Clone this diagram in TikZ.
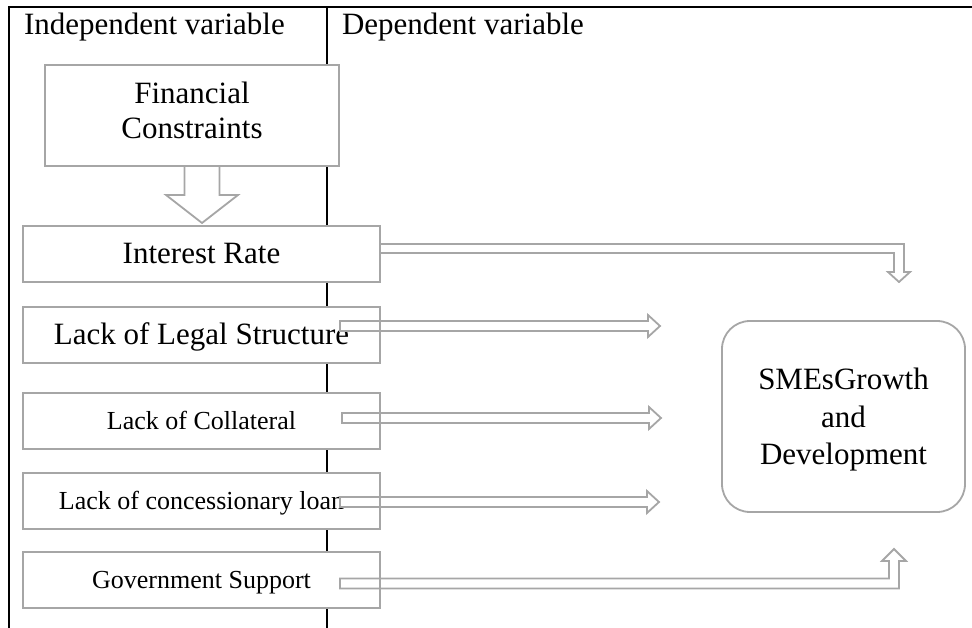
\documentclass[tikz,border=0pt]{standalone}
\usepackage{fontspec}
\setmainfont{Liberation Serif}
\usetikzlibrary{calc}
\definecolor{bx}{RGB}{166,166,166}
\tikzset{
  rulestyle/.style={line width=2pt, draw=black},
  box/.style={draw=bx, line width=1.8pt, fill=white, inner sep=0pt, outer sep=0pt, align=center},
  border/.style={draw=bx, line width=1.8pt},
  bigfont/.style={font=\fontsize{31}{35.5}\selectfont, text height=22pt, text depth=3pt},
  smallfont/.style={font=\fontsize{26}{30}\selectfont, text height=19pt, text depth=3pt},
  blk/.style={draw=bx, line width=1.8pt, fill=white, line join=miter},
  lbl/.style={inner sep=0pt, outer sep=0pt, anchor=base west, font=\fontsize{31}{35.5}\selectfont}
}
\newcommand\hblk[2]{%
  \draw[blk] ($(#1)+(0,-5)$) -- ($(#2)+(-12,-5)$) -- ($(#2)+(-12,-11)$) -- (#2)
    -- ($(#2)+(-12,11)$) -- ($(#2)+(-12,5)$) -- ($(#1)+(0,5)$) -- cycle;}
\begin{document}
\begin{tikzpicture}[x=1pt,y=-1pt]
\useasboundingbox (0,0) rectangle (972,628);
% table rules
\draw[rulestyle] (9,628) -- (9,7) -- (972,7);
\draw[rulestyle] (327,7) -- (327,628);
% headers
\node[lbl] (hind) at (24,35) {Independent variable};
\node[lbl] (hdep) at (342,35) {Dependent variable};
% boxes
\node[box, minimum width=294, minimum height=101] (fc) at (192,115.5) {};
\node[inner sep=0pt, font=\fontsize{31}{35.5}\selectfont, align=center] (fct) at (192,110.5) {Financial\\Constraints};
\node[box, bigfont, minimum width=357, minimum height=56] (ir) at (201.5,254) {Interest Rate};
\node[box, bigfont, minimum width=357, minimum height=56] (lg) at (201.5,335) {Lack of Legal Structure};
\node[box, smallfont, minimum width=357, minimum height=56] (co) at (201.5,421) {Lack of Collateral};
\node[box, smallfont, minimum width=357, minimum height=56] (cn) at (201.5,501) {Lack of concessionary loan};
\node[box, smallfont, minimum width=357, minimum height=56] (gv) at (201.5,580) {Government Support};
\node[draw=bx, line width=1.8pt, fill=white, rounded corners=28, minimum width=243, minimum height=191,
  inner sep=0pt, outer sep=0pt] (sme) at (843.5,416.5) {};
\node[inner sep=0pt, align=center, font=\fontsize{31}{37.5}\selectfont] (smet) at (843.5,420)
  {SMEsGrowth\\and\\Development};
% down arrow
\coordinate (dT) at ($(ir.north)+(0.5,-3)$);
\coordinate (dS) at (fc.south -| dT);
\draw[blk] ($(dS)+(-17.5,0)$) -- ($(dT)+(-17.5,-28)$) -- ($(dT)+(-36,-28)$) -- (dT)
  -- ($(dT)+(36,-28)$) -- ($(dT)+(17.5,-28)$) -- ($(dS)+(17.5,0)$);
% interest rate bent arrow
\coordinate (irS) at ($(ir.east)+(0,-5.5)$);
\coordinate (irT) at (899,282);
\coordinate (irC) at (irS -| irT);
\draw[blk] ($(irS)+(0,-4.5)$) -- ($(irC)+(5,-4.5)$) -- ($(irT)+(5,-10)$) -- ($(irT)+(11,-10)$)
  -- (irT) -- ($(irT)+(-11,-10)$) -- ($(irT)+(-5,-10)$) -- ($(irC)+(-5,4.5)$) -- ($(irS)+(0,4.5)$);
% straight arrows
\coordinate (lgS) at ($(lg.east)+(-40,-9)$);
\coordinate (lgT) at (660,326);
\hblk{lgS}{lgT}
\coordinate (coS) at ($(co.east)+(-38,-3)$);
\coordinate (coT) at (661,418);
\hblk{coS}{coT}
\coordinate (cnS) at ($(cn.east)+(-40,1)$);
\coordinate (cnT) at (659,502);
\hblk{cnS}{cnT}
% government bent arrow
\coordinate (gvS) at ($(gv.east)+(-40,3.5)$);
\coordinate (gvT) at (894,549);
\coordinate (gvC) at (gvS -| gvT);
\draw[blk] ($(gvS)+(0,-5)$) -- ($(gvC)+(-5,-5)$) -- ($(gvT)+(-5,12)$) -- ($(gvT)+(-12,12)$)
  -- (gvT) -- ($(gvT)+(12,12)$) -- ($(gvT)+(5,12)$) -- ($(gvC)+(5,5)$) -- ($(gvS)+(0,5)$) -- cycle;
% redraw box borders on top
\foreach \b in {fc,ir,lg,co,cn,gv}
  \draw[border] (\b.north west) rectangle (\b.south east);
\end{tikzpicture}
\end{document}
